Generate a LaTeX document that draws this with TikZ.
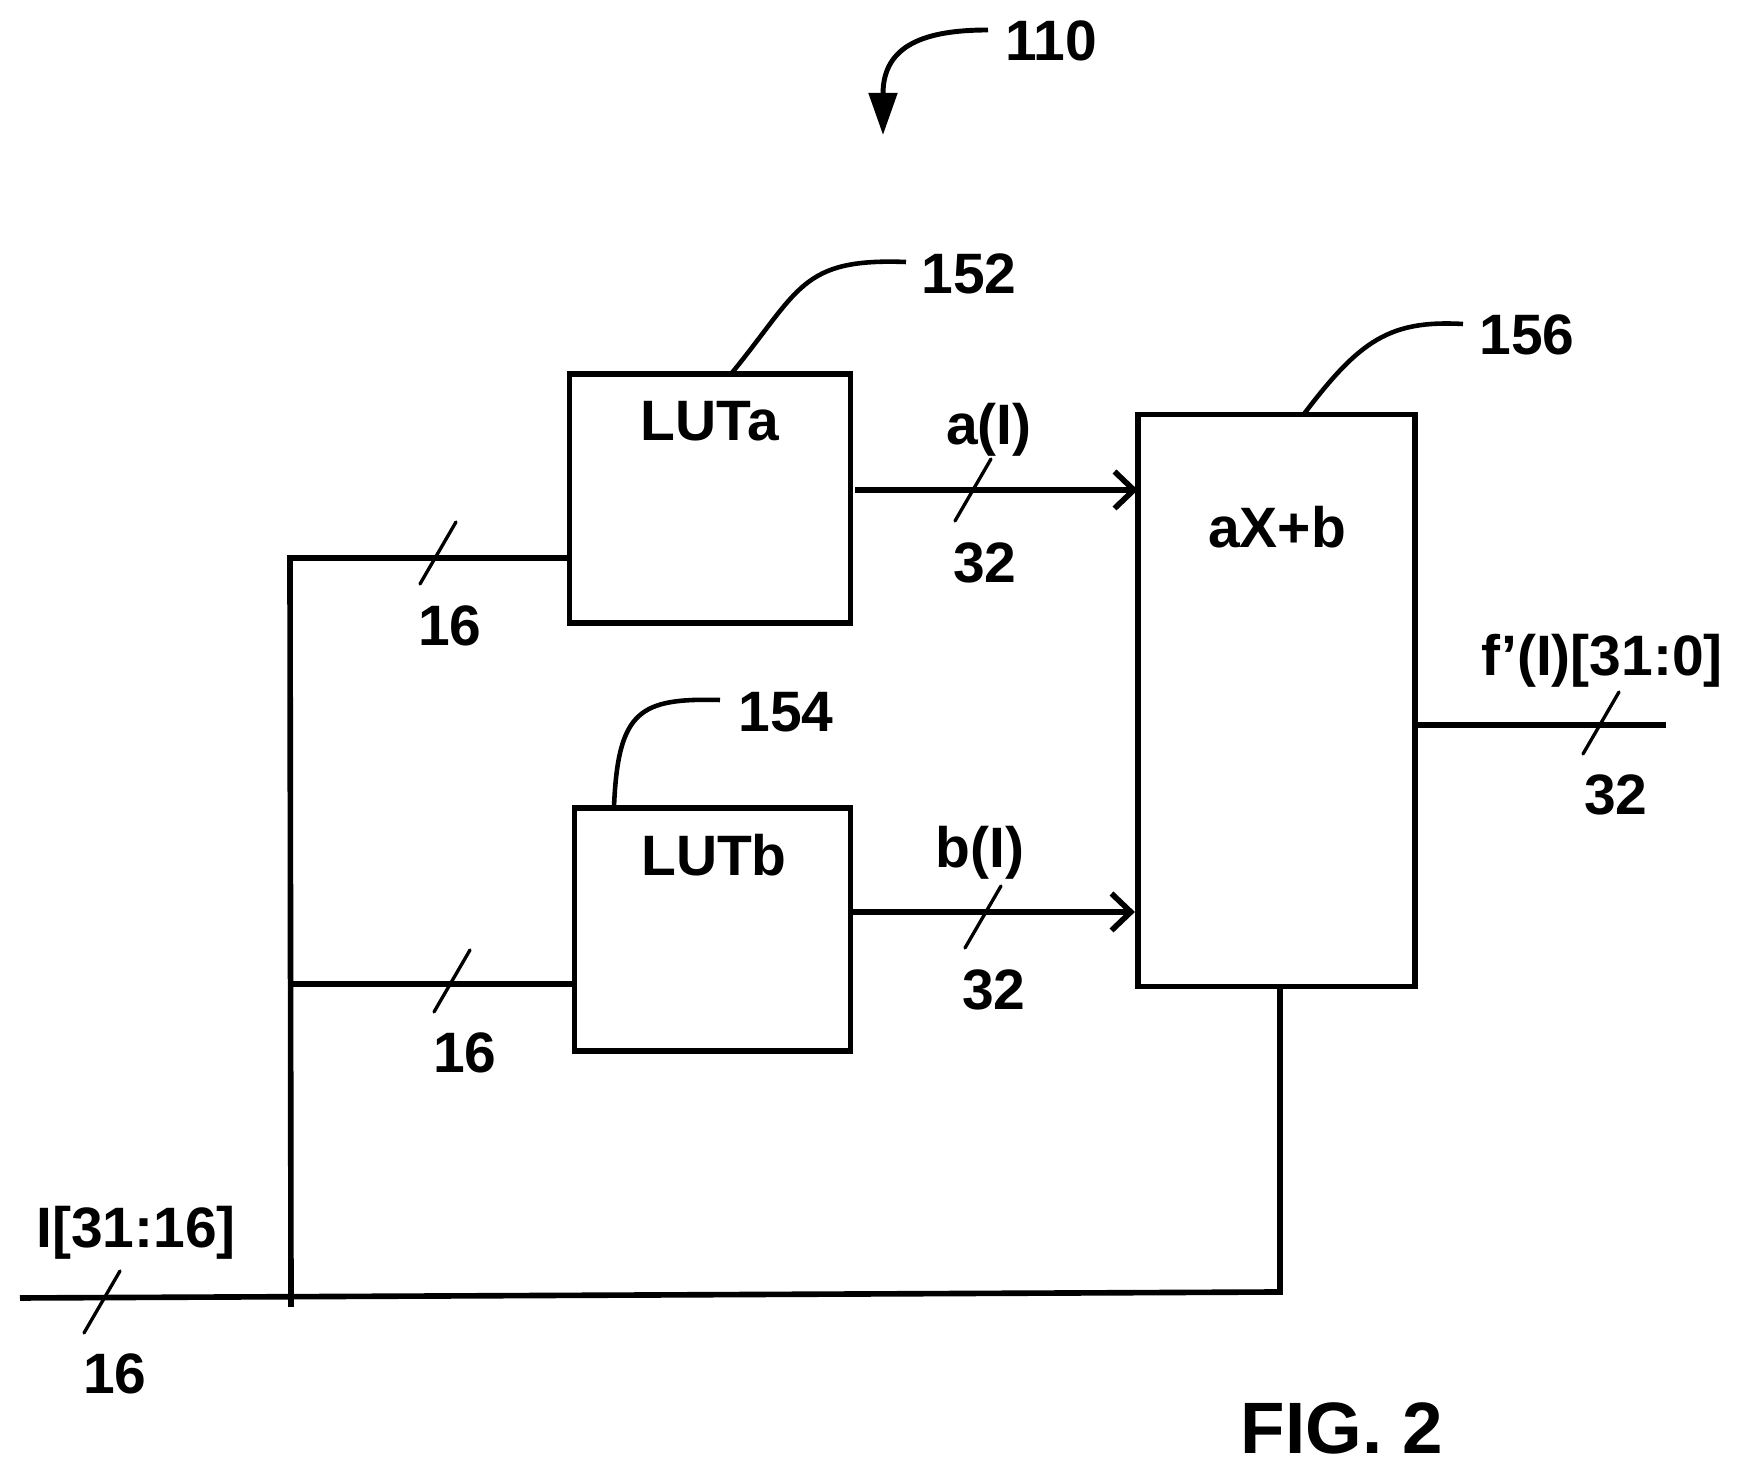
\documentclass[tikz,border=0pt]{standalone}
\usepackage{fontspec}
\setmainfont{Liberation Sans}
\usetikzlibrary{calc,arrows.meta}

\tikzset{
  wire/.style={line width=1.6pt},
  arrowwire/.style={line width=1.6pt, -{Straight Barb[length=5.5pt,width=10.5pt,line width=1.6pt]}},
  leader/.style={line width=1.3pt},
  slashmark/.style={line width=0.95pt, line cap=round},
  blockbox/.style={draw, line width=1.6pt, outer sep=0pt, inner sep=0pt},
  lbl/.style={font=\fontsize{16.2}{19}\selectfont\bfseries, inner sep=0pt},
}

\begin{document}
\begin{tikzpicture}[x=0.01cm, y=-0.01cm]
  \useasboundingbox (0,0) rectangle (1744,1474);

  \node[blockbox, minimum width=2.81cm, minimum height=2.49cm] (luta) at (710,498.5) {};
  \node[blockbox, minimum width=2.76cm, minimum height=2.43cm] (lutb) at (712.5,929.5) {};
  \node[blockbox, minimum width=2.77cm, minimum height=5.72cm] (axb) at (1276.5,700.5) {};

  \node[lbl] (lutatext) at (710,421) {LUTa};
  \node[lbl] (lutbtext) at (714,855) {LUTb};
  \node[lbl] (axbtext) at (1277,527) {aX+b};

  \coordinate (inleft) at (20,1298);
  \coordinate (jbot) at (291,1307);
  \coordinate (ja) at (290,558);
  \coordinate (jb) at (290,984);
  \coordinate (fb) at (1280,1292);
  \coordinate (aout) at (855,490);
  \coordinate (bout) at (851,912);
  \coordinate (outright) at (1666,725);

  % bus lines
  \draw[wire] (jbot) -- (ja) -- (ja -| luta.west);
  \draw[wire] (jb) -- (jb -| lutb.west);
  \draw[wire] (inleft) -- (fb) -- (fb |- axb.south);
  \draw[arrowwire] (aout) -- (aout -| axb.west);
  \draw[arrowwire] (bout) -- ($(bout -| axb.west)+(-3,0)$);
  \draw[wire] (outright -| axb.east) -- (outright);

  % width marks
  \foreach \x/\y in {102/1302, 438/553, 452/981, 973/490, 983/917, 1601/723}
    \draw[slashmark] ($(\x,\y)+(-18,31)$) -- ($(\x,\y)+(18,-31)$);

  \node[lbl] (n110) at (1051,41) {110};
  \node[lbl] (n152) at (969,274) {152};
  \node[lbl] (n154) at (786,712) {154};
  \node[lbl] (n156) at (1527,335) {156};

  \coordinate (tail110) at (988,30);
  \coordinate (tip110) at (883,135);
  \coordinate (tail152) at (906,262);
  \coordinate (tail154) at (720,700);
  \coordinate (tail156) at (1463,324);
  \coordinate (foot152) at (731,374);
  \coordinate (foot154) at (614,807);
  \coordinate (foot156) at (1304,414);

  \draw[leader, line width=1.4pt, -{Triangle[length=12pt,width=8pt]}] (tail110) .. controls (925,30) and (883,45) .. (tip110);
  \draw[leader] (tail152) .. controls (800,258) and (800,290) .. (foot152);
  \draw[leader] (tail154) .. controls (640,698) and (618,710) .. (foot154);
  \draw[leader] (tail156) .. controls (1390,320) and (1360,340) .. (foot156);

  \node[lbl] (aI) at (989,430) {a(I)};
  \node[lbl] (bI) at (980,853) {b(I)};
  \node[lbl] (w32a) at (985,563) {32};
  \node[lbl] (w32b) at (994,990) {32};
  \node[lbl] (w16a) at (450,626) {16};
  \node[lbl] (w16b) at (465,1053) {16};
  \node[lbl] (fout) at (1602,661) {f’(I)[31:0]};
  \node[lbl] (w32c) at (1616,795) {32};
  \node[lbl] (inname) at (136,1233) {I[31:16]};
  \node[lbl] (w16c) at (115,1374) {16};
  \node[font=\fontsize{20.7}{24}\selectfont\bfseries, inner sep=0pt] (figname) at (1342,1428) {FIG. 2};
\end{tikzpicture}
\end{document}
